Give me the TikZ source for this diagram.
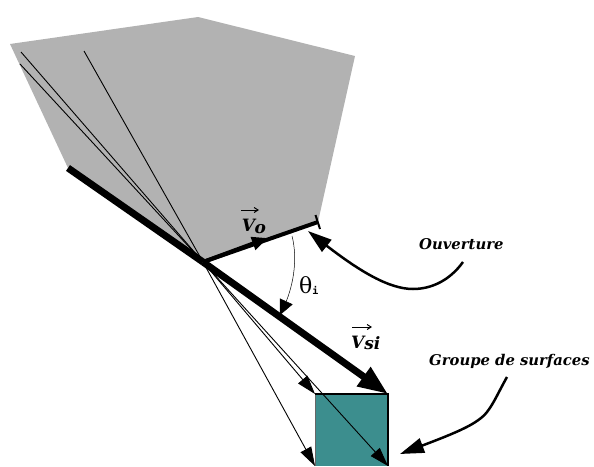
\documentclass[tikz,border=0pt]{standalone}
\usepackage{fontspec}
\setmainfont{DejaVu Serif}
\setmonofont{DejaVu Sans Mono}
\usetikzlibrary{arrows.meta,bending}
\definecolor{apgray}{RGB}{178,178,178}
\definecolor{surfteal}{RGB}{60,142,142}
\tikzset{
  thinray/.style={draw=black,line width=0.9pt},
  rayarrow/.style={thinray,-{Triangle[length=19pt,width=12pt]}},
  heavy/.style={draw=black,line width=7pt},
  mediumv/.style={draw=black,line width=4pt},
  pointer/.style={draw=black,line width=2.5pt,-{Triangle[length=24pt,width=15pt]}},
  lbl/.style={font=\itshape\bfseries\fontsize{14.8}{17}\selectfont,inner sep=0pt},
  veclbl/.style={font=\itshape\bfseries\fontsize{17}{19}\selectfont,inner sep=0pt},
}
\begin{document}
\begin{tikzpicture}[x=1pt,y=-1pt]
\useasboundingbox (0,0) rectangle (594,466);
\coordinate (P) at (203,262);
\coordinate (A) at (10,44);
\coordinate (B) at (198,17);
\coordinate (C) at (355,56);
\coordinate (D) at (318,222);
\coordinate (E) at (68,168);
\coordinate (R1) at (21,52);
\coordinate (R2) at (20,64);
\coordinate (R3) at (84,51);
\coordinate (S1) at (315,394);
\coordinate (S2) at (388,394);
\coordinate (S3) at (388,466);
\coordinate (S4) at (315,466);
\coordinate (T1) at (315.5,215);
\coordinate (T2) at (320,229);
\coordinate (Vm) at (268,238);
\coordinate (Th1) at (292,236);
\coordinate (Th2) at (280,315);
\coordinate (Ou) at (463,262);
\coordinate (Oum) at (413,289);
\coordinate (Ouh) at (308,231);
\coordinate (Gr) at (507,377);
\coordinate (Grm) at (487,412);
\coordinate (Grh) at (400,454);
\fill[apgray] (A) -- (B) -- (C) -- (D) -- (P) -- (E) -- cycle;
\fill[surfteal] (S1) rectangle (S3);
\draw[draw=black!60,line width=1pt] (S1) -- (S4);
\draw[draw=black,line width=1.5pt] (S1) -- (S2) -- (S3);
\draw[thinray] (R3) -- (P);
\draw[thinray] (R1) -- (P);
\draw[thinray] (R2) -- (P);
\draw[rayarrow] (P) -- (S1);
\draw[rayarrow] (P) -- (S3);
\draw[rayarrow] (P) -- (S4);
\draw[heavy] (E) -- (P);
\draw[heavy,-{Triangle[length=30pt,width=22pt]}] (P) -- (S2);
\draw[mediumv] (P) -- (D);
\draw[mediumv,-{Triangle[length=16pt,width=13pt]}] (P) -- (Vm);
\draw[line width=2pt] (T1) -- (T2);
\draw[draw=black,line width=0.5pt,-{Triangle[length=15pt,width=14pt]}] (Th1) .. controls (297,255) and (296,285) .. (Th2);
\draw[pointer] (Ou) .. controls (450,280) and (432,289) .. (Oum) .. controls (385,289) and (350,265) .. (Ouh);
\draw[pointer] (Gr) .. controls (498,393) and (494,403) .. (Grm) .. controls (476,426) and (450,435) .. (Grh);
\node[veclbl] (vo) at (254,226) {V\kern-0.5pt\raisebox{-2pt}{o}};
\draw[line width=1pt,-{Straight Barb[length=4pt,width=5pt]}] (241,210) -- (259,210);
\node[veclbl,anchor=west] (vsi) at (351,343) {V\raisebox{-1pt}{si}};
\draw[line width=1pt,-{Straight Barb[length=4pt,width=5pt]}] (352,327) -- (372,327);
\node[anchor=west,inner sep=0pt] (th) at (299,286) {{\fontsize{22}{24}\selectfont θ}{\ttfamily\bfseries\fontsize{10}{11}\selectfont\raisebox{-1pt}{i}}};
\node[lbl,anchor=west] (ouv) at (419,244) {Ouverture};
\node[lbl,anchor=west] (grp) at (429,361) {Groupe de surfaces};
\end{tikzpicture}
\end{document}
